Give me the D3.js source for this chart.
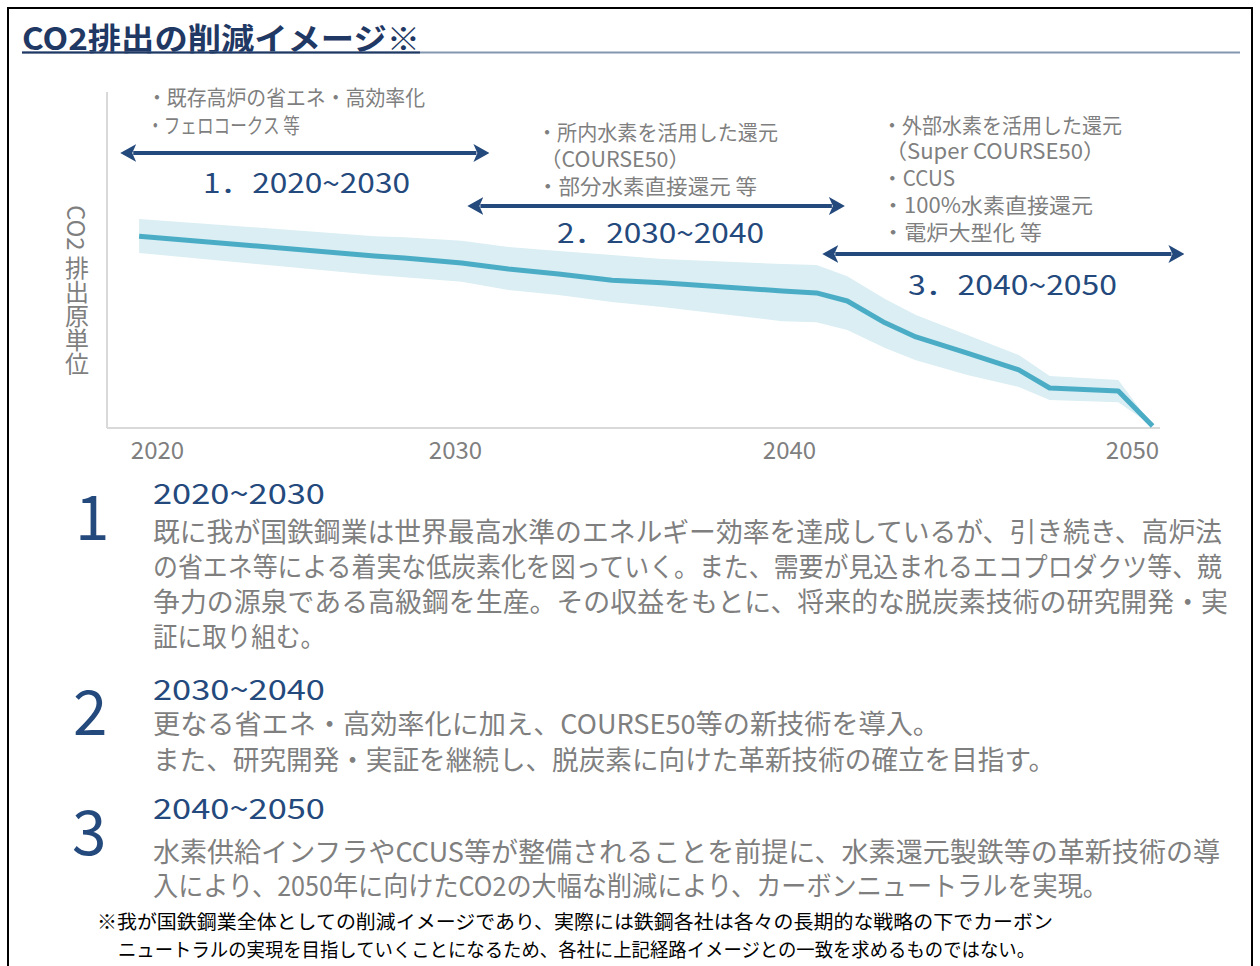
<!DOCTYPE html>
<html>
<head>
<meta charset="utf-8">
<script src="https://cdn.jsdelivr.net/npm/d3@7"></script>
<style>
  body { margin: 0; background: #fff; }
  svg text { font-family: "Noto Sans CJK JP", "Noto Sans", sans-serif; }
</style>
</head>
<body>
<div id="chart"></div>
<script>
// data
let years     = [2019.4, 2027.3, 2028.3, 2030.2, 2031.6, 2033.1, 2034.7, 2036.2, 2039.8, 2040.8, 2041.7, 2042.8, 2043.7, 2045.2, 2046.7, 2047.6, 2049.6, 2050.6]
let co2Values = [57.1, 51.2, 50.6, 49.1, 47.3, 45.8, 44.0, 43.2, 40.8, 40.2, 37.8, 31.3, 27.1, 22.3, 17.3, 11.9, 11.0, 0.6]
let bandHigh  = [62.2, 57.1, 56.8, 55.7, 53.9, 52.7, 51.5, 50.3, 48.8, 48.5, 45.2, 38.4, 33.6, 27.7, 21.7, 15.5, 14.3, 0.6]
let bandLow   = [52.1, 45.5, 44.9, 43.5, 41.1, 39.6, 37.5, 36.0, 31.8, 31.5, 29.2, 23.8, 20.2, 15.8, 12.2, 8.3, 7.7, 0.6]

let tickYears = [2020, 2030, 2040, 2050]

let phaseLabels = ["1．2020~2030", "2．2030~2040", "3．2040~2050"]
let phaseFrom   = [2018.8, 2030.4, 2041.0]
let phaseTo     = [2031.0, 2041.6, 2051.5]

let phaseNotes = [
    ["・既存高炉の省エネ・高効率化", "・フェロコークス 等"],
    ["・所内水素を活用した還元", "（COURSE50）", "・部分水素直接還元 等"],
    ["・外部水素を活用した還元", "（Super COURSE50）", "・CCUS", "・100%水素直接還元", "・電炉大型化  等"]
]

let blockNumbers = ["1", "2", "3"]
let blockTitles  = ["2020~2030", "2030~2040", "2040~2050"]
let blockTexts = [
    ["既に我が国鉄鋼業は世界最高水準のエネルギー効率を達成しているが、引き続き、高炉法",
     "の省エネ等による着実な低炭素化を図っていく。また、需要が見込まれるエコプロダクツ等、競",
     "争力の源泉である高級鋼を生産。その収益をもとに、将来的な脱炭素技術の研究開発・実",
     "証に取り組む。"],
    ["更なる省エネ・高効率化に加え、COURSE50等の新技術を導入。",
     "また、研究開発・実証を継続し、脱炭素に向けた革新技術の確立を目指す。"],
    ["水素供給インフラやCCUS等が整備されることを前提に、水素還元製鉄等の革新技術の導",
     "入により、2050年に向けたCO2の大幅な削減により、カーボンニュートラルを実現。"]
]

let footnotes = [
    "※我が国鉄鋼業全体としての削減イメージであり、実際には鉄鋼各社は各々の長期的な戦略の下でカーボン",
    "ニュートラルの実現を目指していくことになるため、各社に上記経路イメージとの一致を求めるものではない。"
]

const NAVY = "#1f3864"
const BLUE = "#24497c"
const GRAY = "#7f7f7f"

let svg = d3.select("#chart").append("svg")
    .attr("width", 1260)
    .attr("height", 966)

// frame
svg.append("rect")
    .attr("x", 8).attr("y", 8)
    .attr("width", 1244).attr("height", 980)
    .attr("fill", "none")
    .attr("stroke", "#000")
    .attr("stroke-width", 2)

// title with underline
svg.append("text")
    .attr("x", 22).attr("y", 50)
    .attr("font-size", 31)
    .attr("font-weight", "bold")
    .attr("fill", NAVY)
    .attr("textLength", 398)
    .attr("lengthAdjust", "spacingAndGlyphs")
    .text("CO2排出の削減イメージ※")
svg.append("line")
    .attr("x1", 22).attr("x2", 1240)
    .attr("y1", 52.5).attr("y2", 52.5)
    .attr("stroke", "#8496b0")
    .attr("stroke-width", 2)
svg.append("line")
    .attr("x1", 22).attr("x2", 420)
    .attr("y1", 52.5).attr("y2", 52.5)
    .attr("stroke", NAVY)
    .attr("stroke-width", 2)

// scales
let x = d3.scaleLinear()
    .domain(tickYears)
    .range([157, 455, 789, 1132])
let y = d3.scaleLinear()
    .domain([0, 100])
    .range([428, 92])

let points = years.map((d, i) => ({year: d, v: co2Values[i], hi: bandHigh[i], lo: bandLow[i]}))

// axes
let xAxis = svg.append("g")
    .attr("class", "axis axis--x")
    .attr("transform", "translate(0,428)")
    .call(d3.axisBottom(x).tickValues(tickYears).tickFormat(d3.format("d")).tickSize(0).tickPadding(14))
xAxis.select(".domain").remove()
xAxis.selectAll("text")
    .attr("font-size", 24)
    .attr("fill", GRAY)
svg.append("line")
    .attr("x1", 107).attr("x2", 1160)
    .attr("y1", 428).attr("y2", 428)
    .attr("stroke", "#d9d9d9").attr("stroke-width", 2)
svg.append("line")
    .attr("x1", 107).attr("x2", 107)
    .attr("y1", 92).attr("y2", 428)
    .attr("stroke", "#d9d9d9").attr("stroke-width", 2)

// y label, vertical writing
svg.append("text")
    .attr("x", 77).attr("y", 205)
    .attr("font-size", 24)
    .attr("fill", GRAY)
    .style("writing-mode", "vertical-rl")
    .style("text-orientation", "mixed")
    .text("CO2 排出原単位")

// band and line
svg.append("path")
    .datum(points)
    .attr("fill", "#daeef3")
    .attr("d", d3.area()
        .x(d => x(d.year))
        .y0(d => y(d.lo))
        .y1(d => y(d.hi)))

svg.append("path")
    .datum(points)
    .attr("fill", "none")
    .attr("stroke", "#4bacc6")
    .attr("stroke-width", 5)
    .attr("stroke-linejoin", "round")
    .attr("d", d3.line()
        .x(d => x(d.year))
        .y(d => y(d.v)))

// arrows
let defs = svg.append("defs")
defs.append("marker")
    .attr("id", "arrowEnd")
    .attr("markerUnits", "userSpaceOnUse")
    .attr("viewBox", "0 0 16 18")
    .attr("refX", 3).attr("refY", 9)
    .attr("markerWidth", 16).attr("markerHeight", 18)
    .attr("orient", "auto-start-reverse")
    .append("path")
    .attr("d", "M0,0 L16,9 L0,18 L4,9 Z")
    .attr("fill", BLUE)

let arrowY = [153, 206, 254]
svg.selectAll(".phase-arrow")
    .data(phaseLabels)
    .enter().append("line")
    .attr("class", "phase-arrow")
    .attr("x1", (d, i) => x(phaseFrom[i]) + 12)
    .attr("x2", (d, i) => x(phaseTo[i]) - 12)
    .attr("y1", (d, i) => arrowY[i])
    .attr("y2", (d, i) => arrowY[i])
    .attr("stroke", BLUE)
    .attr("stroke-width", 4)
    .attr("marker-start", "url(#arrowEnd)")
    .attr("marker-end", "url(#arrowEnd)")

let labelPos = [[203, 193, 207], [557, 243, 207], [908, 295, 209]]
svg.selectAll(".phase-label")
    .data(phaseLabels)
    .enter().append("text")
    .attr("class", "phase-label")
    .attr("x", (d, i) => labelPos[i][0])
    .attr("y", (d, i) => labelPos[i][1])
    .attr("textLength", (d, i) => labelPos[i][2])
    .attr("lengthAdjust", "spacingAndGlyphs")
    .attr("font-size", 27)
    .attr("fill", BLUE)
    .text(d => d)

// notes above arrows: [x, y, width] per line
let notePos = [
    [[147, 105, 278], [147, 133, 153]],
    [[537, 140, 241], [540, 167, 150], [537, 194, 220]],
    [[882, 133, 240], [885, 159, 220], [882, 186, 73], [882, 213, 211], [882, 240, 160]]
]
phaseNotes.forEach((lines, i) => {
    svg.selectAll(".note" + i)
        .data(lines)
        .enter().append("text")
        .attr("class", "note" + i)
        .attr("x", (d, j) => notePos[i][j][0])
        .attr("y", (d, j) => notePos[i][j][1])
        .attr("textLength", (d, j) => notePos[i][j][2])
        .attr("lengthAdjust", "spacingAndGlyphs")
        .attr("font-size", 21)
        .attr("fill", GRAY)
        .text(d => d)
})

// lower description blocks
let numPos = [[75, 540], [73, 735], [72, 855]]
let titleY = [504, 700, 819]
let lineY = [[542, 577, 612, 647], [734, 770], [862, 896]]
let lineW = [[1069, 1069, 1075, 172], [787, 902], [1067, 955]]

blockNumbers.forEach((num, i) => {
    svg.append("text")
        .attr("x", numPos[i][0]).attr("y", numPos[i][1])
        .attr("font-family", "Noto Sans")
        .attr("font-size", 62)
        .attr("fill", BLUE)
        .text(num)
    svg.append("text")
        .attr("x", 153).attr("y", titleY[i])
        .attr("font-size", 28)
        .attr("fill", BLUE)
        .attr("textLength", 172)
        .attr("lengthAdjust", "spacingAndGlyphs")
        .text(blockTitles[i])
    svg.selectAll(".block" + i)
        .data(blockTexts[i])
        .enter().append("text")
        .attr("class", "block" + i)
        .attr("x", 153)
        .attr("y", (d, j) => lineY[i][j])
        .attr("textLength", (d, j) => lineW[i][j])
        .attr("lengthAdjust", "spacingAndGlyphs")
        .attr("font-size", 27)
        .attr("fill", GRAY)
        .text(d => d)
})

// footnote
let footPos = [[97, 929, 956], [118, 957, 917]]
svg.selectAll(".foot")
    .data(footnotes)
    .enter().append("text")
    .attr("class", "foot")
    .attr("x", (d, i) => footPos[i][0])
    .attr("y", (d, i) => footPos[i][1])
    .attr("textLength", (d, i) => footPos[i][2])
    .attr("lengthAdjust", "spacingAndGlyphs")
    .attr("font-size", 19)
    .attr("fill", "#000")
    .text(d => d)
</script>
</body>
</html>
